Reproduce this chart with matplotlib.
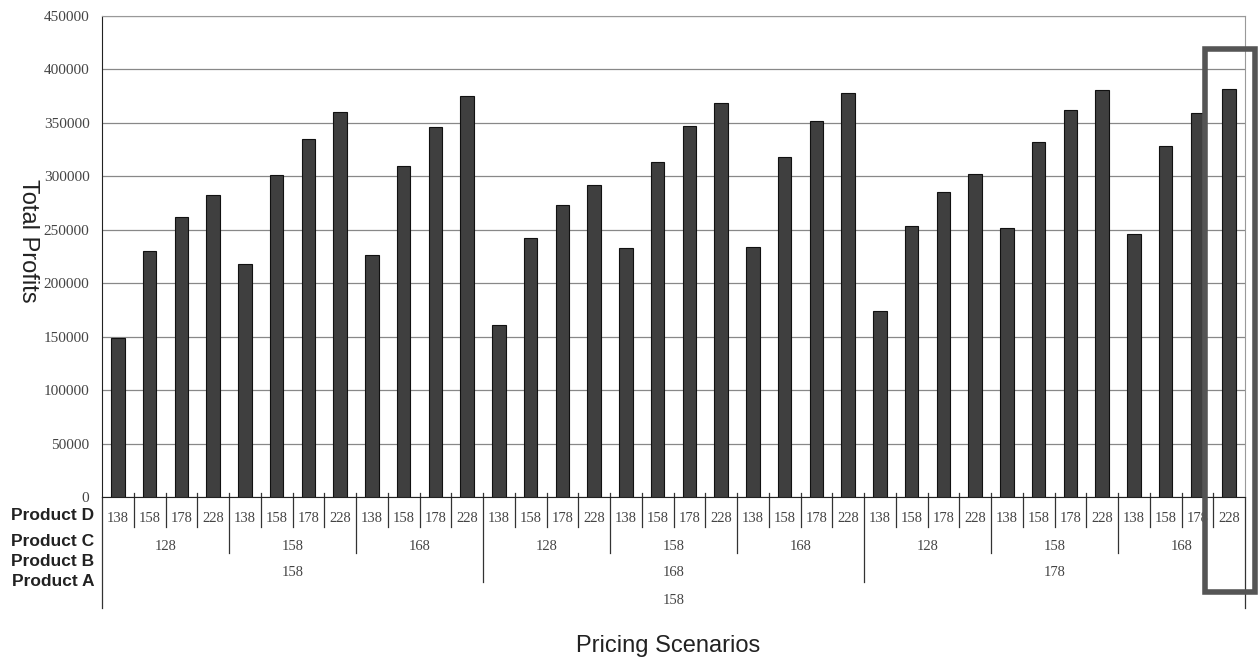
import numpy as np
import matplotlib
matplotlib.use("Agg")
import matplotlib.pyplot as plt
from matplotlib.patches import Rectangle

# price levels for each product (nested axis)
product_a = [158]
product_b = [158, 168, 178]
product_c = [128, 158, 168]
product_d = [138, 158, 178, 228]

# total profits per scenario
profits = [149000, 230000, 262000, 283000,
           218000, 301000, 335000, 360000,
           226000, 310000, 346000, 375000,
           161000, 242000, 273000, 292000,
           233000, 313000, 347000, 369000,
           234000, 318000, 352000, 378000,
           174000, 254000, 285000, 302000,
           252000, 332000, 362000, 381000,
           246000, 328000, 359000, 382000]

yticks = list(range(0, 450001, 50000))

serif = "Liberation Serif"
sans = "Liberation Sans"
txt_col = "#444444"

fig = plt.figure(figsize=(12.59, 6.59), dpi=100)
ax = fig.add_axes([102/1259, 1-497/659, (1245-102)/1259, (497-16)/659])

n = len(profits)
x = np.arange(n)
ax.bar(x, profits, width=0.43, color="#3f3f3f", edgecolor="#111111", linewidth=0.8, zorder=3)

ax.set_xlim(-0.5, n-0.5)
ax.set_ylim(0, 450000)
ax.set_yticks(yticks)
ax.set_yticklabels([str(v) for v in yticks], fontfamily=serif, fontsize=11, color=txt_col)
ax.tick_params(axis="y", length=0, pad=9)
ax.set_xticks([])
ax.grid(axis="y", color="#888888", linewidth=0.9, zorder=0)

ax.spines["top"].set_color("#999999")
ax.spines["top"].set_linestyle((0, (1, 1)))
ax.spines["right"].set_color("#999999")
ax.spines["right"].set_linestyle((0, (1, 1)))
ax.spines["left"].set_color("#222222")
ax.spines["bottom"].set_color("#222222")

trans = ax.get_xaxis_transform()

def ay(py):
    # pixel row -> axes fraction
    return (497 - py) / 481.0

nd = len(product_d)
nc = len(product_c)
# product D row
for i in range(n):
    ax.text(i, ay(518), str(product_d[i % nd]), transform=trans, ha="center", va="center",
            fontfamily=serif, fontsize=10.5, color=txt_col, clip_on=False)
# product C row
for j in range(n // nd):
    ax.text(j*nd + (nd-1)/2, ay(546), str(product_c[j % nc]), transform=trans, ha="center",
            va="center", fontfamily=serif, fontsize=10.5, color=txt_col, clip_on=False)
# product B row
gb = nd * nc
for k in range(n // gb):
    ax.text(k*gb + (gb-1)/2, ay(573), str(product_b[k]), transform=trans, ha="center",
            va="center", fontfamily=serif, fontsize=10.5, color=txt_col, clip_on=False)
# product A row
ax.text((n-1)/2, ay(601), str(product_a[0]), transform=trans, ha="center", va="center",
        fontfamily=serif, fontsize=10.5, color=txt_col, clip_on=False)

# separators
for i in range(1, n):
    xs = i - 0.5
    if i % gb == 0:
        bottom = ay(582)
    elif i % nd == 0:
        bottom = ay(553)
    else:
        bottom = ay(527)
    ax.plot([xs, xs], [ay(493), bottom], transform=trans, color="#333333", linewidth=0.9, clip_on=False)
for xs in [-0.5, n-0.5]:
    ax.plot([xs, xs], [0, ay(608)], transform=trans, color="#333333", linewidth=0.9, clip_on=False)

# row names
for name, py in [("Product D", 516), ("Product C", 541), ("Product B", 561), ("Product A", 581)]:
    fig.text(94/1259, 1-py/659, name, ha="right", va="center", fontfamily=sans,
             fontweight="bold", fontsize=12.5, color="#222222")

fig.text(28/1259, 1-241/659, "Total Profits", rotation=-90, ha="center", va="center",
         fontfamily=sans, fontsize=17, color="#222222")
fig.text(668/1259, 1-646/659, "Pricing Scenarios", ha="center", va="center",
         fontfamily=sans, fontsize=17, color="#222222")

# highlight box around the last scenario
rect = Rectangle((1205/1259, 1-592/659), (1255-1205)/1259, (592-49)/659, transform=fig.transFigure,
                 fill=False, edgecolor="#555555", linewidth=4, zorder=10)
fig.patches.append(rect)

fig.savefig("out.png", dpi=100)
